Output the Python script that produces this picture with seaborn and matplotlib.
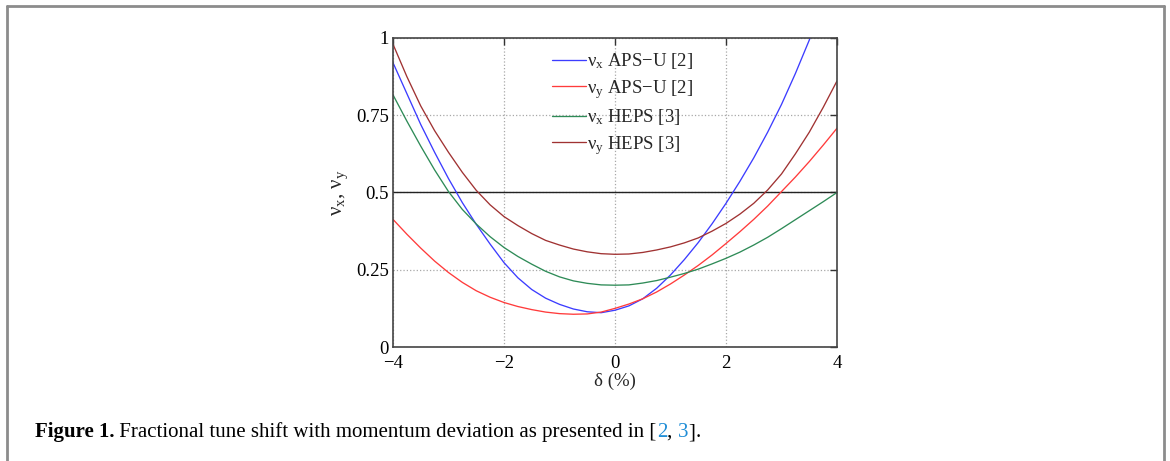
import matplotlib
matplotlib.use('Agg')
import pandas as pd
import matplotlib.pyplot as plt
import seaborn as sns
from matplotlib.lines import Line2D

# momentum deviation (%)
delta = [-4.0, -3.75, -3.5, -3.25, -3.0, -2.75, -2.5, -2.25, -2.0, -1.75, -1.5,
         -1.25, -1.0, -0.75, -0.5, -0.25, 0.0, 0.25, 0.5, 0.75, 1.0, 1.25, 1.5,
         1.75, 2.0, 2.25, 2.5, 2.75, 3.0, 3.25, 3.5, 3.75, 4.0]

# fractional tunes
nux_aps = [0.920, 0.820, 0.720, 0.630, 0.545, 0.467, 0.397, 0.333, 0.273, 0.224, 0.186,
           0.158, 0.138, 0.123, 0.114, 0.111, 0.119, 0.133, 0.156, 0.190, 0.233, 0.283, 0.338,
           0.399, 0.465, 0.536, 0.612, 0.695, 0.785, 0.885, 0.993, 1.110, 1.235]
nuy_aps = [0.413, 0.365, 0.320, 0.278, 0.241, 0.209, 0.182, 0.161, 0.144, 0.131, 0.121,
           0.113, 0.108, 0.106, 0.107, 0.113, 0.125, 0.139, 0.156, 0.178, 0.204, 0.233, 0.264,
           0.298, 0.335, 0.373, 0.413, 0.456, 0.503, 0.550, 0.600, 0.653, 0.708]
nux_heps = [0.816, 0.731, 0.650, 0.573, 0.503, 0.445, 0.398, 0.357, 0.322, 0.293, 0.268,
            0.245, 0.227, 0.214, 0.206, 0.201, 0.200, 0.201, 0.207, 0.215, 0.226, 0.238, 0.252,
            0.269, 0.287, 0.307, 0.330, 0.355, 0.383, 0.412, 0.441, 0.470, 0.500]
nuy_heps = [0.980, 0.875, 0.780, 0.700, 0.630, 0.565, 0.507, 0.460, 0.422, 0.393, 0.367,
            0.345, 0.330, 0.317, 0.308, 0.302, 0.300, 0.301, 0.306, 0.314, 0.324, 0.337, 0.353,
            0.375, 0.400, 0.430, 0.465, 0.508, 0.560, 0.625, 0.695, 0.775, 0.861]

labels = [r'$\nu_\mathrm{x}$ APS−U [2]', r'$\nu_\mathrm{y}$ APS−U [2]',
          r'$\nu_\mathrm{x}$ HEPS [3]', r'$\nu_\mathrm{y}$ HEPS [3]']
colors = ['#3c3cff', '#ff3b3b', '#2e8b57', '#a03232']

x_ticks = [-4, -2, 0, 2, 4]
x_tick_labels = ['−4', '−2', '0', '2', '4']
y_ticks = [0, 0.25, 0.5, 0.75, 1]
y_tick_labels = ['0', '0.25', '0.5', '0.75', '1']

caption_parts = [('Figure 1.', 'bold', 'black'),
                 (' Fractional tune shift with momentum deviation as presented in [', 'normal', 'black'),
                 ('2', 'normal', '#1f8dd6'),
                 (', ', 'normal', 'black'),
                 ('3', 'normal', '#1f8dd6'),
                 (']', 'normal', 'black'),
                 ('.', 'normal', 'black')]

frames = []
for lab, vals in zip(labels, [nux_aps, nuy_aps, nux_heps, nuy_heps]):
    frames.append(pd.DataFrame({'delta': delta, 'tune': vals, 'series': lab}))
df = pd.concat(frames, ignore_index=True)

sns.set_theme(style='white')
plt.rcParams['font.family'] = ['Liberation Serif', 'DejaVu Serif']
plt.rcParams['mathtext.fontset'] = 'custom'
plt.rcParams['mathtext.rm'] = 'Liberation Serif'
plt.rcParams['mathtext.it'] = 'Liberation Serif:italic'
plt.rcParams['mathtext.default'] = 'regular'

W, H = 1170, 461
fig = plt.figure(figsize=(W / 100, H / 100), dpi=100)
ax = fig.add_axes([393 / W, 1 - 347 / H, 444 / W, 309 / H])

ax.grid(True, linestyle=':', color='#a8a8a8', linewidth=0.9)
ax.axhline(0.5, color='#222222', linewidth=1.0, zorder=1)

sns.lineplot(data=df, x='delta', y='tune', hue='series', hue_order=labels,
             palette=colors, linewidth=0.95, ax=ax, sort=False)

ax.set_xlim(-4, 4)
ax.set_ylim(0, 1)
ax.set_xticks(x_ticks)
ax.set_xticklabels(x_tick_labels)
ax.set_yticks(y_ticks)
ax.set_yticklabels(y_tick_labels)
ax.tick_params(direction='in', length=5, width=1, top=True, right=True,
               labelsize=13.5, color='#333333', labelcolor='black')
ax.tick_params(axis='y', pad=3)
ax.tick_params(axis='x', pad=6)
for sp in ax.spines.values():
    sp.set_color('#444444')
    sp.set_linewidth(1.2)

ax.set_xlabel('δ (%)', fontsize=13.5, labelpad=0)
ax.set_ylabel(r'$\nu_x$, $\nu_y$', fontsize=15, labelpad=4)

ax.legend(frameon=False, loc='upper left', bbox_to_anchor=(0.328, 1.0),
          fontsize=13.5, handlelength=1.8, handletextpad=0.1,
          labelspacing=0.35, borderaxespad=0.3)

# page frame around the figure
fc = '#8c8c8c'
fig.add_artist(Line2D([7 / W, 7 / W], [0, 1 - 6 / H], transform=fig.transFigure, color=fc, lw=2))
fig.add_artist(Line2D([7 / W, 1164 / W], [1 - 6 / H, 1 - 6 / H], transform=fig.transFigure, color=fc, lw=2))
fig.add_artist(Line2D([1164 / W, 1164 / W], [0, 1 - 6 / H], transform=fig.transFigure, color=fc, lw=2))

# caption, drawn piece by piece
renderer = fig.canvas.get_renderer()
x = 35 / W
for txt, weight, col in caption_parts:
    t = fig.text(x, 1 - 437 / H, txt, fontsize=15, fontweight=weight, color=col, va='baseline')
    bb = t.get_window_extent(renderer)
    x = bb.x1 / fig.bbox.width

fig.savefig('out.png', dpi=100)
